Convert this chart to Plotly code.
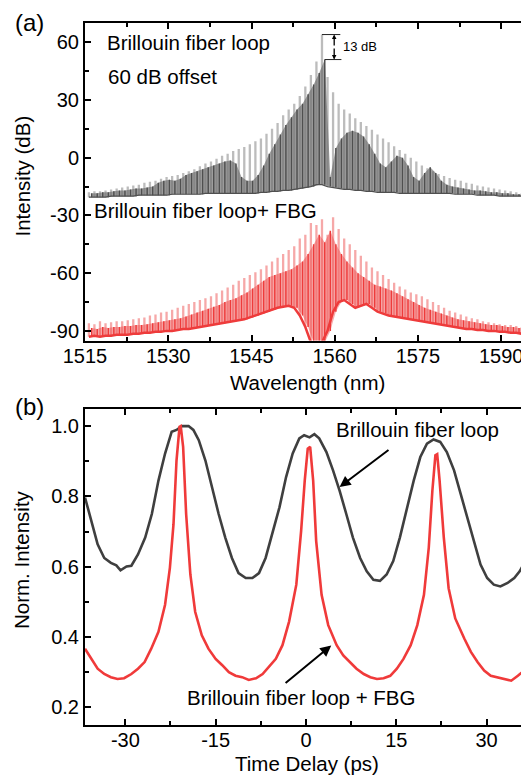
import plotly.graph_objects as go

# ---------------- DATA ----------------
# (a) spectra: comb lines on a 1 nm grid (values in dB as plotted)
wl = [1515.7 + k for k in range(80)]
gray_top = [-18, -17.5, -17.5, -17, -16.5, -16, -15.5, -15, -14.5, -14,
            -13, -12.5, -12, -11, -10, -9.5, -9, -8, -7, -6,
            -4.5, -3, -2, -0.5, 1, 2, 3.5, 4.5, 5.5, 7,
            8.5, 10, 12.5, 15, 18, 22, 25, 28, 32, 37,
            43, 50, 64, 42, 34, 28, 25, 23, 20.5, 18.5,
            16.5, 14.5, 12, 10, 8, 6, 4, 2, 0, -2,
            -4, -5.5, -7, -8.5, -9.5, -10.5, -11.5, -12, -13, -13.5,
            -14.5, -15, -15.5, -16, -16.5, -17, -17.5, -18, -18.5, -19]
gray_mid = [-18.5, -18.5, -18, -18, -17.5, -17, -17, -16.5, -16, -16,
            -15.5, -15, -13, -12, -11.5, -12, -11, -9, -8, -7,
            -6, -5, -4, -3, -2, -1.5, -3, -10, -12, -12,
            -9, -4, 2, 7, 12, 17, 21, 25, 28, 33,
            38, 44, 51, -10, 5, 10, 13, 14, 13, 11,
            7, 2, -3, -5, -2, 1, 0, -4, -10, -12,
            -8, -5, -8, -12, -14, -15, -15.5, -16, -16.5, -17,
            -17, -17.5, -18, -18, -18.5, -18.5, -19, -19, -19.5, -19.5]
gray_floor = [-20.5, -20.5, -20.5, -20.5, -20, -20, -20, -20, -20, -19.5,
              -19.5, -19.5, -19.5, -19.5, -19.5, -19, -19, -19, -19, -19,
              -19, -18.5, -18.5, -18.5, -18.5, -18.5, -18.5, -18.5, -18.5, -18.5,
              -18.5, -18, -18, -17.5, -17.5, -17, -17, -16.5, -16, -15.5,
              -15, -14, -14, -15, -15.5, -16, -16.5, -16.5, -17, -17,
              -17.5, -17.5, -18, -18, -18, -18, -18.5, -18.5, -18.5, -18.5,
              -18.5, -18.5, -18.5, -18.5, -18.5, -18.5, -19, -19, -19, -19,
              -19.5, -19.5, -19.5, -19.5, -20, -20, -20, -20, -20, -20]
red_top = [-86, -86.5, -85, -86, -85.5, -85, -85, -84.5, -84, -83.5,
           -83, -82, -81.5, -80.5, -80, -79, -78, -77, -76, -75,
           -74, -73, -72, -70.5, -69, -67.5, -66, -64, -62.5, -61,
           -59.5, -58, -56, -54, -52, -50, -48, -46, -42, -40,
           -34, -35, -32, -40, -31, -37, -42, -45, -48, -51,
           -54, -57, -59, -61, -63, -65, -67, -68.5, -70, -71,
           -72, -73.5, -75, -76.5, -78, -79.5, -80.5, -81.5, -82.5, -83.5,
           -84, -85, -85.5, -86, -86.5, -87, -87, -87.5, -88, -88]
red_mid = [-88.5, -89, -88, -88.5, -88, -88, -87.5, -87.5, -87, -87,
           -86.5, -86, -85.5, -85, -84.5, -84, -83.5, -82.5, -81.5, -80.5,
           -79.5, -78.5, -77.5, -76.5, -75, -74, -73, -71.5, -70, -68,
           -66, -64, -62, -61, -60, -59, -58, -56, -54, -50,
           -45, -40, -44, -38, -45, -50, -54, -57, -60, -62,
           -64, -66, -67, -68, -69, -70.5, -72, -73.5, -75, -76.5,
           -78, -79, -80, -81, -82, -83, -84, -84.5, -85, -85.5,
           -86, -86.5, -87, -87, -87.5, -88, -88, -88.5, -88.5, -89]
red_floor = [-93, -92.5, -93, -92.5, -92.5, -92, -92, -92, -91.5, -91.5,
             -91, -91, -90.5, -90.5, -90, -90, -89.5, -89, -89, -88.5,
             -88, -87.5, -87, -86.5, -86, -85.5, -85, -84.5, -84, -83,
             -82, -81, -80, -79, -78, -77.5, -77, -78, -82, -88,
             -96, -97, -96, -90, -80, -75, -74, -76, -78, -77,
             -76, -78, -80, -81, -82, -82.5, -83, -83.5, -84, -84.5,
             -85, -85.5, -86, -86.5, -87, -87.5, -88, -88.5, -89, -89,
             -89.5, -89.5, -90, -90, -90.5, -90.5, -91, -91, -91.5, -91.5]

# (b) autocorrelation traces
t_gray = [-36.7, -35.7, -34.6, -33.5, -32.4, -31.5, -30.8, -29.8, -29.0, -27.9,
          -26.7, -25.6, -24.5, -23.4, -22.3, -21.5, -20.6, -19.5, -18.7, -17.8,
          -16.7, -15.6, -14.5, -13.4, -12.3, -11.2, -10.0, -8.9, -7.8, -6.7,
          -5.6, -4.4, -3.3, -2.2, -1.1, -0.3, 0.6, 1.4, 2.2, 3.4,
          4.5, 5.6, 6.7, 7.8, 9.0, 10.1, 11.2, 12.3, 13.4, 14.5,
          15.6, 16.7, 17.9, 19.0, 20.1, 21.2, 22.3, 23.4, 24.6, 25.7,
          26.8, 27.9, 29.0, 30.1, 31.2, 32.3, 33.5, 34.6, 35.5, 36.3, 37.0]
v_gray = [0.797, 0.73, 0.664, 0.625, 0.611, 0.604, 0.59, 0.601, 0.603, 0.635,
          0.683, 0.75, 0.845, 0.922, 0.984, 0.989, 1.0, 1.0, 0.989, 0.96,
          0.902, 0.826, 0.75, 0.683, 0.625, 0.582, 0.568, 0.568, 0.582, 0.625,
          0.692, 0.769, 0.855, 0.922, 0.965, 0.974, 0.968, 0.977, 0.965, 0.926,
          0.874, 0.816, 0.75, 0.683, 0.625, 0.587, 0.563, 0.56, 0.578, 0.616,
          0.683, 0.759, 0.845, 0.912, 0.95, 0.962, 0.955, 0.926, 0.874, 0.807,
          0.74, 0.673, 0.606, 0.568, 0.549, 0.544, 0.554, 0.568, 0.587, 0.611, 0.635]
t_red = [-36.7, -35.7, -34.6, -33.5, -32.4, -31.3, -30.2, -29.0, -27.9, -26.8,
         -25.7, -24.5, -23.4, -22.6, -22.0, -21.5, -21.0, -20.8, -20.4, -19.9,
         -19.2, -18.4, -17.3, -16.2, -15.0, -13.9, -12.8, -11.7, -10.6, -9.5,
         -8.3, -7.2, -6.1, -5.0, -3.9, -2.8, -1.6, -0.8, -0.2, 0.3,
         0.7, 1.2, 1.7, 2.6, 3.7, 5.1, 6.2, 7.3, 8.4, 9.6,
         10.7, 11.8, 12.9, 14.0, 15.1, 16.2, 17.4, 18.5, 19.6, 20.4,
         21.0, 21.5, 21.8, 22.2, 22.9, 23.7, 24.8, 26.3, 27.4, 28.5,
         29.6, 30.7, 31.8, 33.0, 34.1, 35.2, 36.6]
v_red = [0.367, 0.338, 0.31, 0.295, 0.286, 0.281, 0.283, 0.295, 0.31, 0.329,
         0.367, 0.415, 0.492, 0.597, 0.721, 0.902, 0.998, 1.0, 0.941, 0.75,
         0.578, 0.472, 0.405, 0.367, 0.338, 0.32, 0.3, 0.29, 0.286, 0.278,
         0.283, 0.295, 0.315, 0.338, 0.377, 0.444, 0.549, 0.702, 0.845, 0.936,
         0.941, 0.845, 0.673, 0.52, 0.434, 0.377, 0.348, 0.329, 0.31, 0.295,
         0.286, 0.281, 0.283, 0.29, 0.31, 0.338, 0.377, 0.434, 0.52, 0.654,
         0.816, 0.917, 0.92, 0.845, 0.683, 0.539, 0.453, 0.396, 0.358, 0.329,
         0.305, 0.29, 0.286, 0.281, 0.276, 0.29, 0.31]

x1_ticks = [1515, 1530, 1545, 1560, 1575, 1590]
y1_ticks = [-90, -60, -30, 0, 30, 60]
x2_ticks = [-30, -15, 0, 15, 30]
y2_ticks = [0.2, 0.4, 0.6, 0.8, 1.0]

# 13 dB marker levels (dB) and wavelengths
peak_top_db, peak_next_db = 64, 51
peak_top_wl, peak_next_wl = 1557.7, 1558.2

# ---------------- LAYOUT HELPERS ----------------
# page places the figure div 8 px from the window's top-left corner
OFF = 8
PL, PR, PT, PB = 85, 529, 23, 725        # plot-area edges in window pixels
W, H = 529 - OFF, 775 - OFF
FONT = "Liberation Sans, Arial, sans-serif"
PW, PH = PR - PL, PB - PT


def px(x):
    return (x - PL) / PW


def py(y):
    return (PB - y) / PH


def segments(xs, lo, hi, shift=0.0):
    x, y = [], []
    for xi, a, b in zip(xs, lo, hi):
        x += [xi + shift, xi + shift, None]
        y += [a, b, None]
    return x, y


def lab(v, fmt="{:g}"):
    return fmt.format(v)


fig = go.Figure()


def add_spectrum(top, mid, floor, light, dark, fillc, floorw):
    xl, yl = segments(wl, floor, top)
    fig.add_trace(go.Scatter(x=xl, y=yl, mode="lines", line=dict(color=light, width=2.3),
                             xaxis="x", yaxis="y", hoverinfo="skip", showlegend=False))
    xs = [w + 0.5 for w in wl]
    fig.add_trace(go.Scatter(x=xs + xs[::-1], y=mid + floor[::-1], mode="lines", fill="toself",
                             fillcolor=fillc, line=dict(width=0), xaxis="x", yaxis="y",
                             hoverinfo="skip", showlegend=False))
    xd, yd = segments(wl, floor, mid, shift=0.5)
    fig.add_trace(go.Scatter(x=xd, y=yd, mode="lines", line=dict(color=dark, width=1.5),
                             xaxis="x", yaxis="y", hoverinfo="skip", showlegend=False))
    fig.add_trace(go.Scatter(x=wl, y=floor, mode="lines", line=dict(color=dark, width=floorw),
                             xaxis="x", yaxis="y", hoverinfo="skip", showlegend=False))


add_spectrum(gray_top, gray_mid, gray_floor, "#bcbcbc", "#4f4f4f", "rgba(100,100,100,0.6)", 1.2)
add_spectrum(red_top, red_mid, red_floor, "#f6a8a8", "#ee3b3b", "rgba(238,70,70,0.45)", 2.5)

fig.add_trace(go.Scatter(x=t_gray, y=v_gray, mode="lines", line=dict(color="#3f3f3f", width=2.6),
                         xaxis="x2", yaxis="y2", hoverinfo="skip", showlegend=False))
fig.add_trace(go.Scatter(x=t_red, y=v_red, mode="lines", line=dict(color="#f03a3a", width=2.6),
                         xaxis="x2", yaxis="y2", hoverinfo="skip", showlegend=False))

tickfont = dict(family=FONT, size=20, color="black")


def axis(**kw):
    d = dict(showline=True, linecolor="black", linewidth=2, mirror="ticks", ticks="inside",
             ticklen=6, tickwidth=1.5, tickcolor="black", showgrid=False, zeroline=False,
             tickfont=tickfont, automargin=False)
    d.update(kw)
    return d


def minor(dt, t0):
    return dict(dtick=dt, tick0=t0, ticks="inside", ticklen=4, tickwidth=1.5, tickcolor="black")


top_dom = [py(340.5), 1]
bot_dom = [0, py(408.5)]

fig.update_layout(
    width=W, height=H,
    margin=dict(l=PL - OFF, r=(W + OFF) - PR, t=PT - OFF, b=(H + OFF) - PB, autoexpand=False),
    paper_bgcolor="white", plot_bgcolor="white",
    xaxis=axis(domain=[0, 1], anchor="y", range=[1515, 1595], tickvals=x1_ticks,
               ticktext=[lab(v) for v in x1_ticks], minor=minor(7.5, 1515), ticklabelstandoff=-4),
    yaxis=axis(domain=top_dom, anchor="x", range=[-95, 70], tickvals=y1_ticks,
               ticktext=[lab(v) for v in y1_ticks], minor=minor(15, -90), ticklabelstandoff=0),
    xaxis2=axis(domain=[0, 1], anchor="y2", range=[-36.7, 37.05], tickvals=x2_ticks,
                ticktext=[lab(v) for v in x2_ticks], minor=minor(7.5, 0), ticklabelstandoff=-4),
    yaxis2=axis(domain=bot_dom, anchor="x2", range=[0.15, 1.05], tickvals=y2_ticks,
                ticktext=[lab(v, "{:.1f}") for v in y2_ticks], minor=minor(0.1, 0.2), ticklabelstandoff=0),
)

anns = []


def text(s, x, y, size=20.5, xanchor="left", angle=0):
    anns.append(dict(text=s, x=px(x), y=py(y), xref="paper", yref="paper", showarrow=False,
                     xanchor=xanchor, yanchor="middle", textangle=angle,
                     font=dict(family=FONT, size=size, color="black")))


text("(a)", 13, 22.5, size=24)
text("(b)", 13, 406.5, size=24)
text("Intensity (dB)", 21.5, 176, xanchor="center", angle=-90)
text("Norm. Intensity", 21, 560, xanchor="center", angle=-90)
text("Wavelength (nm)", 307, 382.5, xanchor="center")
text("Time Delay (ps)", 307, 763.5, xanchor="center")
text("Brillouin fiber loop", 104.5, 42.5)
text("60 dB offset", 105.5, 76.5)
text("Brillouin fiber loop+ FBG", 91.5, 210.5)
text("13 dB", 340.5, 47, size=13)
text("Brillouin fiber loop", 334, 429)
text("Brillouin fiber loop + FBG", 184.5, 697)

# 13 dB bracket
bracket_x = 1559.9
fig.add_shape(type="line", xref="x", yref="y", x0=peak_top_wl, x1=1561.0, y0=peak_top_db, y1=peak_top_db,
              line=dict(color="#222", width=1))
fig.add_shape(type="line", xref="x", yref="y", x0=peak_next_wl, x1=1561.2, y0=peak_next_db, y1=peak_next_db,
              line=dict(color="#222", width=1))
mid_db = (peak_top_db + peak_next_db) / 2
for yend in (peak_top_db, peak_next_db):
    anns.append(dict(x=bracket_x, y=yend, ax=bracket_x, ay=mid_db, xref="x", yref="y", axref="x", ayref="y",
                     showarrow=True, arrowhead=2, arrowsize=0.7, arrowwidth=1.3, arrowcolor="black", text=""))

# panel (b) arrows
anns.append(dict(x=5.59, y=0.827, ax=13.96, ay=0.935, xref="x2", yref="y2", axref="x2", ayref="y2",
                 showarrow=True, arrowhead=2, arrowsize=1.1, arrowwidth=2, arrowcolor="black", text=""))
anns.append(dict(x=4.20, y=0.376, ax=-3.63, ay=0.266, xref="x2", yref="y2", axref="x2", ayref="y2",
                 showarrow=True, arrowhead=2, arrowsize=1.1, arrowwidth=2, arrowcolor="black", text=""))

fig.update_layout(annotations=anns)
fig.write_html("out.html")
